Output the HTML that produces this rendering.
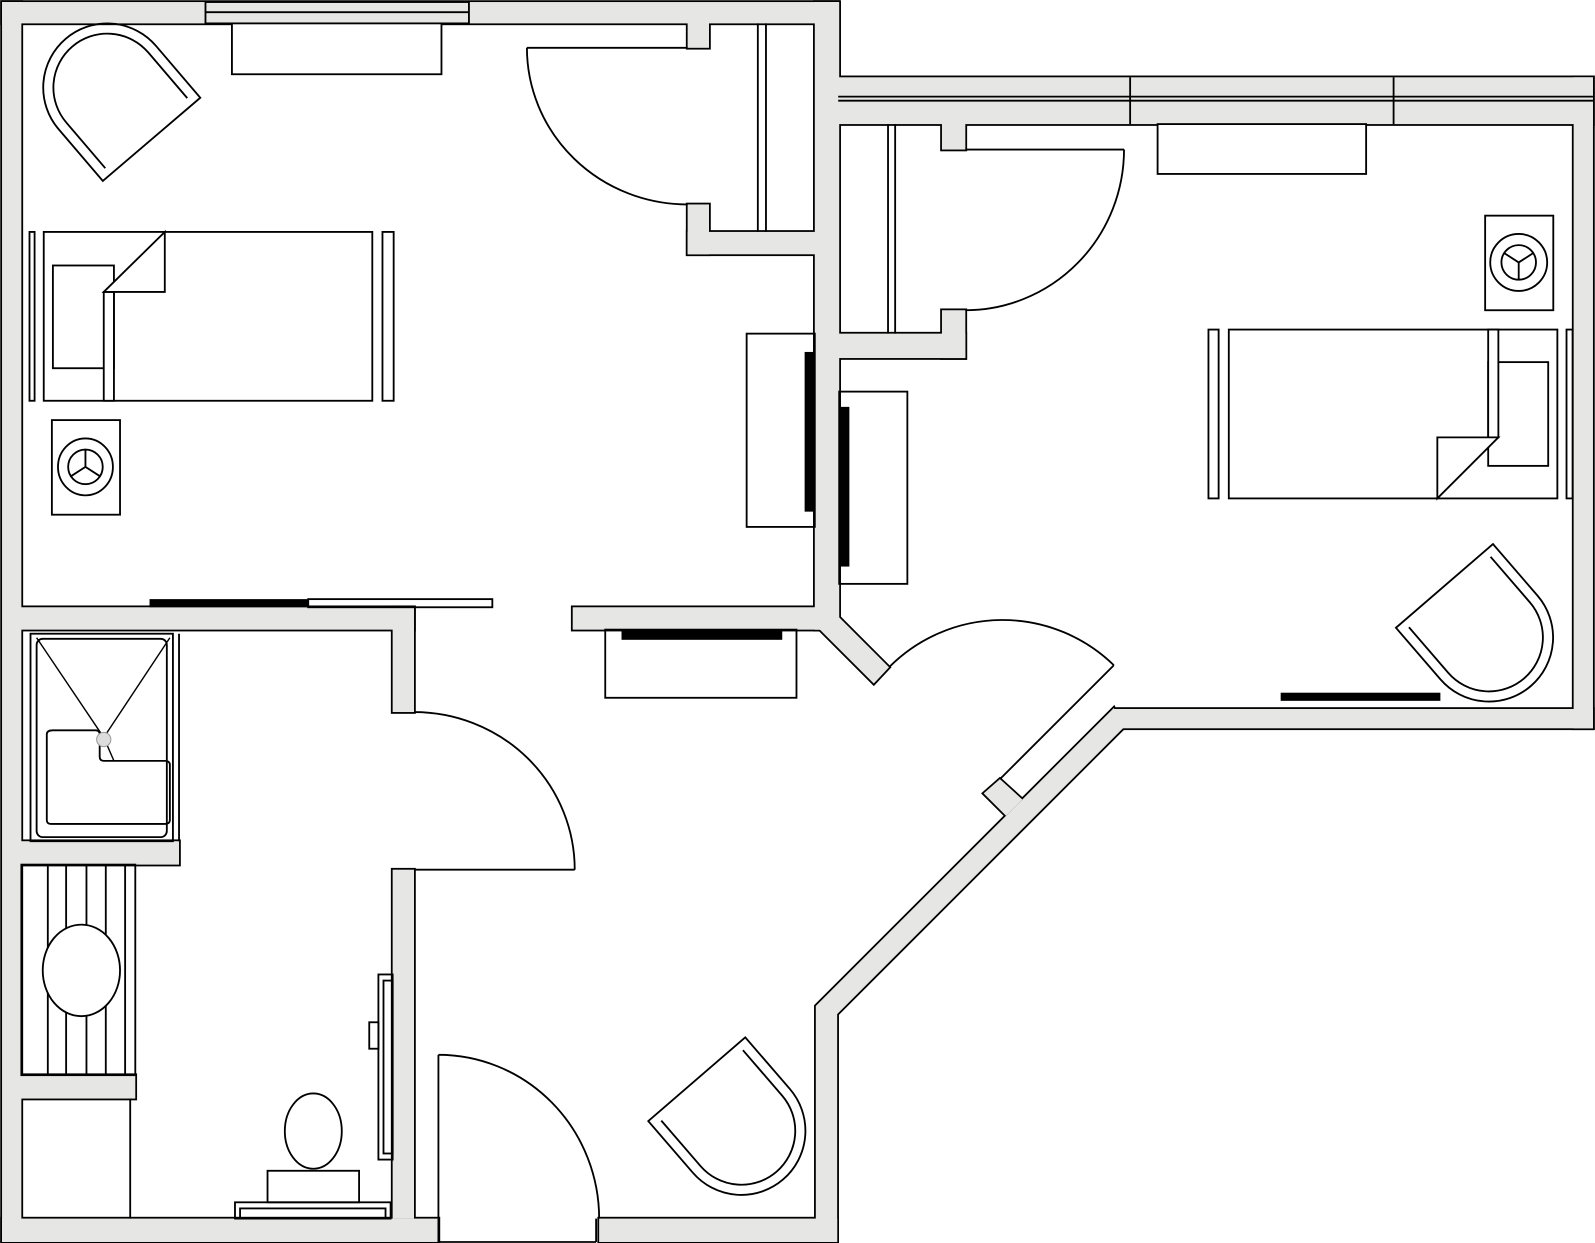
<!DOCTYPE html>
<html><head><meta charset="utf-8"><style>html,body{margin:0;padding:0;background:#fff}svg{display:block}</style></head>
<body>
<svg xmlns="http://www.w3.org/2000/svg" xmlns:xlink="http://www.w3.org/1999/xlink" width="1595" height="1243" viewBox="0 0 1568 1222" preserveAspectRatio="none">
<defs>
<g id="walls">
  <rect x="2" y="2" width="822" height="21"/>
  <rect x="2" y="2" width="19" height="1219"/>
  <rect x="2" y="1198" width="429" height="23"/>
  <rect x="589" y="1198" width="234" height="23"/>
  <rect x="801" y="2" width="24" height="617"/>
  <rect x="676" y="20" width="21" height="27"/>
  <rect x="676" y="201" width="21" height="49"/>
  <rect x="676" y="228" width="128" height="22"/>
  <rect x="824" y="76" width="742" height="46"/>
  <rect x="1547" y="76" width="19" height="640"/>
  <rect x="1095" y="697" width="471" height="19"/>
  <polygon points="1095,696 1104,716 823,997 823,1221 802,1221 802,989"/>
  <polygon points="983,766 1005,786 989,802 967,780"/>
  <rect x="926" y="119" width="23" height="28"/>
  <rect x="926" y="305" width="23" height="47"/>
  <rect x="822" y="328" width="127" height="24"/>
  <rect x="18" y="597" width="389" height="22"/>
  <rect x="386" y="597" width="21" height="103"/>
  <rect x="386" y="855" width="21" height="343"/>
  <rect x="563" y="597" width="245" height="22"/>
  <polygon points="825,607 874,656 859,672 806,619 801,619 801,597"/>
  <rect x="18" y="827" width="158" height="23"/>
  <rect x="18" y="1057" width="115" height="23"/>
</g>
<g id="chair">
  <path d="M-63,0 L63,0 L63,-67 A63,63 0 0 0 -63,-67 Z"/>
  <path d="M-53,-8 L-53,-67 A53,53 0 0 1 53,-67 L53,-8"/>
</g>
</defs>
<use xlink:href="#walls" fill="#e6e6e4" stroke="#000" stroke-width="3.5"/>
<use xlink:href="#walls" fill="#e6e6e4" stroke="none"/>

<g fill="none" stroke="#000" stroke-width="1.8">
  <rect x="202" y="2" width="259" height="21"/>
  <line x1="202" y1="12" x2="461" y2="12"/>
  <line x1="824" y1="95" x2="1566" y2="95"/>
  <line x1="824" y1="99" x2="1566" y2="99"/>
  <line x1="1111" y1="76" x2="1111" y2="122"/>
  <line x1="1370" y1="76" x2="1370" y2="122"/>
  <rect x="228" y="23" width="206" height="50" fill="#fff"/>
  <rect x="1138" y="122" width="205" height="49" fill="#fff"/>
  <line x1="745" y1="23" x2="745" y2="228"/><line x1="753" y1="23" x2="753" y2="228"/>
  <line x1="873" y1="122" x2="873" y2="328"/><line x1="880" y1="122" x2="880" y2="328"/>
  <line x1="518" y1="47" x2="676" y2="47"/>
  <path d="M518,47 A158,154 0 0 0 676,201"/>
  <line x1="949" y1="147" x2="1105" y2="147"/>
  <path d="M1105,147 A156,158 0 0 1 949,305"/>
  <rect x="734" y="328" width="67" height="190"/>
  <rect x="825" y="385" width="67" height="189"/>
  <rect x="595" y="619" width="188" height="67"/>
  <rect x="29" y="228" width="5" height="166"/>
  <rect x="43" y="228" width="323" height="166"/>
  <rect x="376" y="228" width="11" height="166"/>
  <rect x="52" y="261" width="60" height="101"/>
  <rect x="102" y="287" width="10" height="107" fill="#fff"/>
  <polygon points="102,287 162,228 162,287" fill="#fff"/>
  <rect x="1188" y="324" width="10" height="166"/>
  <rect x="1208" y="324" width="323" height="166"/>
  <rect x="1540" y="324" width="6" height="166"/>
  <rect x="1463" y="356" width="59" height="102"/>
  <rect x="1463" y="324" width="10" height="106" fill="#fff"/>
  <polygon points="1473,430 1413,430 1413,490" fill="#fff"/>
  <rect x="51" y="413" width="67" height="93"/>
  <ellipse cx="84" cy="459" rx="27" ry="28"/><circle cx="84" cy="459" r="17"/>
  <path d="M84,459 L84,442 M84,459 L70,468 M84,459 L98,468"/>
  <rect x="1460" y="212" width="67" height="93"/>
  <circle cx="1493" cy="258" r="28"/><circle cx="1493" cy="258" r="17"/>
  <path d="M1493,258 L1493,275 M1493,258 L1479,249 M1493,258 L1507,249"/>
  <rect x="303" y="589" width="181" height="8"/>
  <line x1="407" y1="855" x2="565" y2="855"/>
  <path d="M407,700 A158,155 0 0 1 565,855"/>
  <line x1="431" y1="1037" x2="431" y2="1221"/>
  <path d="M431,1037 A158,161 0 0 1 589,1198"/>
  <line x1="431" y1="1221" x2="586" y2="1221"/>
  <line x1="586" y1="1198" x2="586" y2="1221"/>
  <line x1="983" y1="766" x2="1095" y2="654"/>
  <path d="M874,656 A157,157 0 0 1 1095,654"/>
  <rect x="30" y="623" width="140" height="204"/>
  <line x1="176" y1="623" x2="176" y2="827"/>
  <rect x="36" y="628" width="128" height="195" rx="6"/>
  <path d="M52,718 L94,718 Q98,718 98,722 L98,744 Q98,748 102,748 L162,748 Q167,748 167,752 L167,806 Q167,810 162,810 L50,810 Q46,810 46,806 L46,722 Q46,718 52,718 Z"/>
  <path d="M36,627 L102,725 L167,627 M102,725 L112,748" stroke-width="1.4"/>
  <circle cx="102" cy="727" r="7" fill="#ddd" stroke="#999" stroke-width="1"/>
  <rect x="21" y="850" width="112" height="207"/>
  <path d="M47,850 V1057 M65,850 V1057 M85,850 V1057 M104,850 V1057 M123,850 V1057"/>
  <ellipse cx="80" cy="954" rx="38" ry="45" fill="#fff"/>
  <line x1="128" y1="1080" x2="128" y2="1198"/>
  <ellipse cx="308" cy="1112" rx="28" ry="37"/>
  <rect x="263" y="1151" width="90" height="31"/>
  <rect x="231" y="1182" width="153" height="16"/>
  <rect x="236" y="1188" width="143" height="10"/>
  <rect x="372" y="958" width="14" height="182"/>
  <rect x="377" y="964" width="9" height="170"/>
  <rect x="363" y="1005" width="9" height="26"/>
  <use xlink:href="#chair" transform="translate(149,137) rotate(-40.5)"/>
  <use xlink:href="#chair" transform="translate(685,1061) rotate(139.2)"/>
  <use xlink:href="#chair" transform="translate(1420,576) rotate(139.2)"/>
</g>
<g fill="#000">
  <rect x="147" y="589" width="156" height="8"/>
  <rect x="791" y="346" width="10" height="157"/>
  <rect x="825" y="400" width="10" height="157"/>
  <rect x="611" y="619" width="158" height="10"/>
  <rect x="1259" y="681" width="157" height="8"/>
</g>
</svg>
</body></html>
